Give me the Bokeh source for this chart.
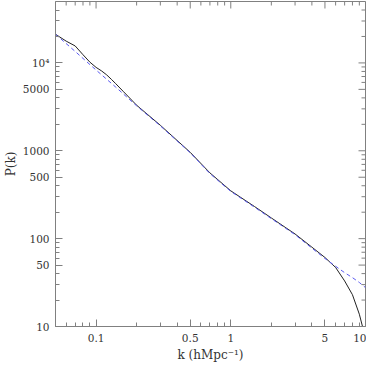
import math
from bokeh.plotting import figure
from bokeh.models import FixedTicker
from bokeh.embed import file_html
from bokeh.resources import INLINE

# Black solid: P(k)
k_black = [0.05, 0.06, 0.07, 0.08, 0.09, 0.1, 0.11, 0.12, 0.13, 0.14, 0.16, 0.2, 0.3,
           0.5, 0.7, 1.0, 1.5, 2.0, 3.0, 4.0, 5.0, 6.0, 7.0, 8.0, 9.0, 9.5]
p_black = [21200, 17700, 15600, 12400, 10200, 8900, 8100, 7300, 6500, 5800, 4700, 3300, 1950,
           960, 560, 350, 232, 172, 113, 80, 61, 47, 33, 23, 13.8, 10]

# Blue dashed: fit / model
k_blue = [0.05, 0.07, 0.1, 0.14, 0.2, 0.3, 0.5, 0.7, 1.0, 1.5, 2.0, 3.0, 4.0, 5.0,
          6.0, 7.0, 8.0, 9.0, 10.0]
p_blue = [21200, 13500, 8300, 5300, 3250, 1920, 950, 550, 345, 228, 169, 111, 78, 59.5,
          48.5, 41, 36, 31.7, 27.7]

x_ticks = [0.1, 0.5, 1, 5, 10]
x_minor = [0.06, 0.07, 0.08, 0.09, 0.2, 0.3, 0.4, 0.6, 0.7, 0.8, 0.9, 2, 3, 4, 6, 7, 8, 9]
x_labels = {0.1: "0.1", 0.5: "0.5", 1: "1", 5: "5", 10: "10"}
y_ticks = [10, 50, 100, 500, 1000, 5000, 10000]
y_minor = [20, 30, 40, 60, 70, 80, 90, 200, 300, 400, 600, 700, 800, 900,
           2000, 3000, 4000, 6000, 7000, 8000, 9000, 20000, 30000, 40000]
y_labels = {10: "10", 50: "50", 100: "100", 500: "500", 1000: "1000", 5000: "5000", 10000: "10\u2074"}

FONT = "DejaVu Serif"
AX = "#808080"
TXT = "#333333"

p = figure(x_axis_type="log", y_axis_type="log", x_range=(0.05, 10), y_range=(10, 5e4),
           width=366, height=365, output_backend="svg", toolbar_location=None,
           min_border_left=49, min_border_right=1, min_border_top=1, min_border_bottom=39)
p.xgrid.visible = False
p.ygrid.visible = False
p.outline_line_color = AX
p.background_fill_color = "white"
p.border_fill_color = "white"

p.line(k_black, p_black, line_color="#222222", line_width=1)
p.line(k_blue, p_blue, line_color="#5a5af0", line_width=1, line_dash="4 3")

def style(ax, ticks, minor, labels):
    ax.ticker = FixedTicker(ticks=ticks, minor_ticks=minor)
    ax.major_tick_in = 7
    ax.major_tick_out = 0
    ax.minor_tick_in = 4
    ax.minor_tick_out = 0
    ax.axis_line_color = AX
    ax.major_tick_line_color = AX
    ax.minor_tick_line_color = AX
    ax.major_label_overrides = labels
    ax.major_label_text_font = FONT
    ax.major_label_text_font_size = "10.5px"
    ax.major_label_text_color = TXT
    ax.axis_label_text_font = FONT
    ax.axis_label_text_font_size = "12px"
    ax.axis_label_text_font_style = "normal"
    ax.axis_label_text_color = TXT

style(p.xaxis[0], x_ticks, x_minor, x_labels)
style(p.yaxis[0], y_ticks, y_minor, y_labels)
p.xaxis[0].axis_label = "k (hMpc\u207b\u00b9)"
p.yaxis[0].axis_label = "P(k)"
p.xaxis[0].major_label_standoff = 7
p.yaxis[0].major_label_standoff = 6
p.xaxis[0].axis_label_standoff = 3
p.yaxis[0].axis_label_standoff = 2

# Inward ticks on the top and right frame edges (dash markers centred on the edge, half clipped)
ytop = p.y_range.end
xright = p.x_range.end
p.scatter(x_ticks, [ytop] * len(x_ticks), marker="dash", angle=math.pi / 2, size=14,
          line_color=AX, line_width=1)
p.scatter(x_minor, [ytop] * len(x_minor), marker="dash", angle=math.pi / 2, size=8,
          line_color=AX, line_width=1)
p.scatter([xright] * len(y_ticks), y_ticks, marker="dash", size=14, line_color=AX, line_width=1)
p.scatter([xright] * len(y_minor), y_minor, marker="dash", size=8, line_color=AX, line_width=1)

open("out.html", "w").write(file_html(p, INLINE))
